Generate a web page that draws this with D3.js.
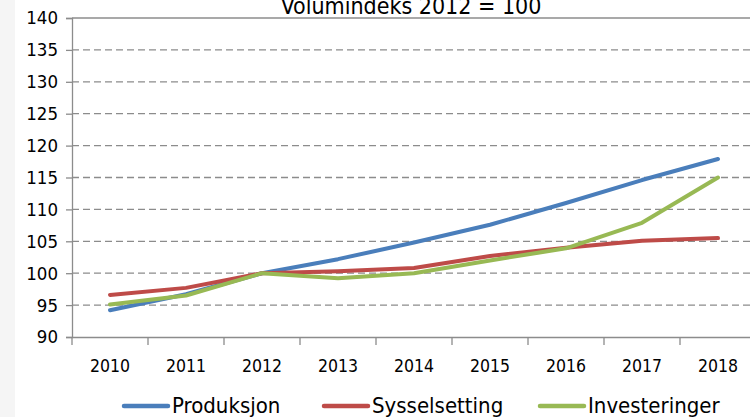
<!DOCTYPE html>
<html>
<head>
<meta charset="utf-8">
<script src="https://cdn.jsdelivr.net/npm/d3@7"></script>
<style>
  body { margin: 0; background: #fff; }
  svg text { font-family: "Liberation Sans Narrow", "DejaVu Sans Condensed", "Open Sans", sans-serif; fill: #000; }
</style>
</head>
<body>
<div id="chart"></div>
<script>
// Data
let years = ['2010', '2011', '2012', '2013', '2014', '2015', '2016', '2017', '2018'];
let produksjon = [94.2, 96.7, 100.0, 102.2, 104.8, 107.6, 111.0, 114.6, 117.9];
let sysselsetting = [96.6, 97.7, 100.0, 100.3, 100.8, 102.7, 104.0, 105.1, 105.5];
let investeringer = [95.1, 96.5, 100.0, 99.2, 100.0, 102.0, 103.9, 107.9, 115.0];
let yTicks = [90, 95, 100, 105, 110, 115, 120, 125, 130, 135, 140];
let seriesNames = ['Produksjon', 'Sysselsetting', 'Investeringer'];
let colors = ['#4a7ebb', '#be4b48', '#98b954'];

// Set dimensions and margins
let margin = { top: 18, right: -6, bottom: 80, left: 72 },
    width = 750 - margin.left - margin.right,
    height = 417 - margin.top - margin.bottom;

let x = d3.scaleBand().domain(years).range([0, width]);
let y = d3.scaleLinear().domain([90, 140]).range([height, 0]);

let svg = d3.select('#chart')
    .append('svg')
    .attr('width', 750)
    .attr('height', 417);

// light strip at left edge
svg.append('rect')
    .attr('x', 0).attr('y', 0)
    .attr('width', 15).attr('height', 417)
    .attr('fill', '#f5f5f5');

let g = svg.append('g')
    .attr('transform', 'translate(' + margin.left + ',' + margin.top + ')');

// Title (top is clipped in the original too)
svg.append('text')
    .attr('x', 411)
    .attr('y', 14)
    .attr('text-anchor', 'middle')
    .style('font-size', '23px')
    .text('Volumindeks  2012 = 100');

// Gridlines
g.selectAll('.grid')
    .data(yTicks.filter(d => d > 90))
    .enter().append('line')
    .attr('x1', 0)
    .attr('x2', width)
    .attr('y1', d => y(d))
    .attr('y2', d => y(d))
    .attr('stroke', '#8c8c8c')
    .attr('stroke-width', 1.3)
    .attr('stroke-dasharray', d => d === 140 ? null : '7,4');

// Y axis
let yAxis = g.append('g')
    .call(d3.axisLeft(y).tickValues(yTicks).tickSize(6).tickPadding(8).tickFormat(d3.format('d')));
yAxis.selectAll('text').style('font-size', '18.5px');

// X axis
let xAxis = g.append('g')
    .attr('transform', 'translate(0,' + height + ')')
    .call(d3.axisBottom(x).tickSize(0).tickPadding(23));
xAxis.selectAll('text').style('font-size', '17.5px');

// x tick marks between categories
g.selectAll('.xtick')
    .data(years)
    .enter().append('line')
    .attr('x1', d => x(d))
    .attr('x2', d => x(d))
    .attr('y1', height)
    .attr('y2', height + 8)
    .attr('stroke', '#8c8c8c')
    .attr('stroke-width', 1.3);

svg.selectAll('.domain').attr('stroke', '#8c8c8c').attr('stroke-width', 1.3);
svg.selectAll('.tick line').attr('stroke', '#8c8c8c').attr('stroke-width', 1.3);

// Lines
let line = d3.line()
    .x((d, i) => x(years[i]) + x.bandwidth() / 2)
    .y(d => y(d));

[produksjon, sysselsetting, investeringer].forEach(function (s, i) {
    g.append('path')
        .datum(s)
        .attr('fill', 'none')
        .attr('stroke', colors[i])
        .attr('stroke-width', 4)
        .attr('stroke-linecap', 'round')
        .attr('stroke-linejoin', 'round')
        .attr('d', line);
});

// Legend
let legendX = [124, 324, 540];
let legend = svg.append('g');
seriesNames.forEach(function (name, i) {
    legend.append('line')
        .attr('x1', legendX[i])
        .attr('x2', legendX[i] + 44)
        .attr('y1', 406)
        .attr('y2', 406)
        .attr('stroke', colors[i])
        .attr('stroke-width', 4.5)
        .attr('stroke-linecap', 'round');
    legend.append('text')
        .attr('x', legendX[i] + 48)
        .attr('y', 413)
        .style('font-size', '22px')
        .text(name);
});
</script>
</body>
</html>
